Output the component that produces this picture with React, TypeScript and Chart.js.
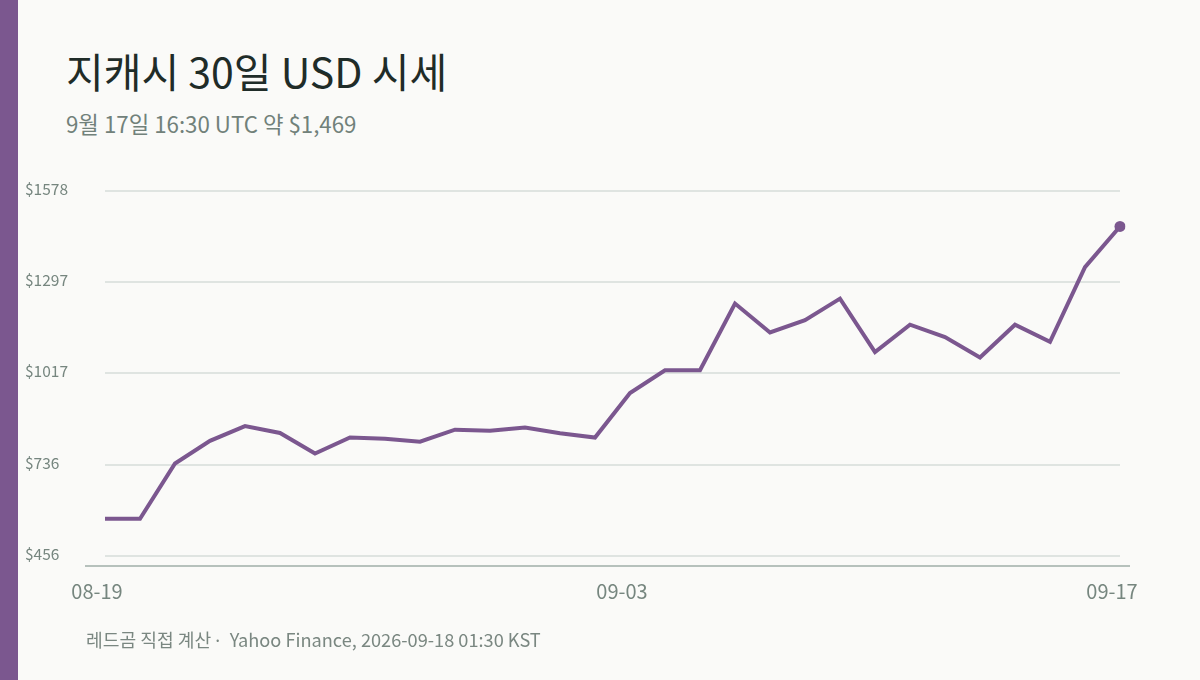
import { useEffect, useRef } from "react"
import Chart from "chart.js/auto"

const dates = [
  "08-19", "08-20", "08-21", "08-22", "08-23", "08-24", "08-25", "08-26", "08-27", "08-28",
  "08-29", "08-30", "08-31", "09-01", "09-02", "09-03", "09-04", "09-05", "09-06", "09-07",
  "09-08", "09-09", "09-10", "09-11", "09-12", "09-13", "09-14", "09-15", "09-16", "09-17"
]
const prices = [
  570, 570, 740, 810, 855, 834, 771, 820, 816, 807,
  844, 841, 851, 833, 820, 957, 1027, 1027, 1232, 1143,
  1181, 1247, 1083, 1167, 1129, 1066, 1167, 1114, 1344, 1469
]
const xTickLabels = ["08-19", "09-03", "09-17"]
const yTickValues = [456, 736, 1017, 1297, 1578]
const yTickLabels = ["$456", "$736", "$1017", "$1297", "$1578"]

const PURPLE = "#7b578f"
const FONT = "'Noto Sans CJK SC', sans-serif"

const App = () => {
  const chartRef = useRef<HTMLCanvasElement>(null)

  useEffect(() => {
    document.body.style.margin = "0"
    if (!chartRef.current) return
    const ctx = chartRef.current.getContext("2d")
    if (!ctx) return

    // x axis line runs a bit past the plot on both sides
    const axisLine = {
      id: "axisLine",
      afterDraw(chart: any) {
        const { ctx, chartArea } = chart
        ctx.save()
        ctx.strokeStyle = "#b6c1bc"
        ctx.lineWidth = 2
        ctx.beginPath()
        ctx.moveTo(chartArea.left - 20, chartArea.bottom)
        ctx.lineTo(chartArea.right + 10, chartArea.bottom)
        ctx.stroke()
        ctx.restore()
      }
    }

    const chart = new Chart(ctx, {
      type: "line",
      data: {
        labels: dates,
        datasets: [
          {
            data: prices,
            borderColor: PURPLE,
            backgroundColor: PURPLE,
            borderWidth: 4,
            tension: 0,
            pointRadius: prices.map((_, i) => (i === prices.length - 1 ? 5.5 : 0)),
            pointHoverRadius: 0,
            pointBorderWidth: 0
          }
        ]
      },
      options: {
        responsive: false,
        animation: false,
        events: [],
        layout: { padding: { top: 191, left: 25, right: 80, bottom: 74 } },
        plugins: {
          legend: { display: false },
          tooltip: { enabled: false }
        },
        scales: {
          x: {
            grid: { display: false, drawTicks: false },
            border: { display: false },
            afterFit: (scale: any) => {
              scale.height = 40
            },
            ticks: {
              autoSkip: false,
              maxRotation: 0,
              padding: 13,
              labelOffset: -8,
              color: "#76867f",
              font: { family: FONT, size: 20 },
              callback: (_v: any, i: number) =>
                xTickLabels.includes(dates[i]) ? dates[i] : ""
            }
          },
          y: {
            min: 425,
            max: 1578,
            grid: { color: "#dfe4e1", lineWidth: 2, drawTicks: false },
            border: { display: false },
            afterFit: (scale: any) => {
              scale.width = 80
            },
            afterBuildTicks: (scale: any) => {
              scale.ticks = yTickValues.map((v) => ({ value: v }))
            },
            ticks: {
              crossAlign: "far",
              padding: 0,
              labelOffset: -2,
              color: "#76867f",
              font: { family: FONT, size: 15.5 },
              callback: (v: any) => yTickLabels[yTickValues.indexOf(Number(v))]
            }
          }
        }
      },
      plugins: [axisLine]
    })

    return () => {
      chart.destroy()
    }
  }, [])

  return (
    <div
      style={{
        position: "relative",
        width: 1200,
        height: 680,
        background: "#fafaf8",
        overflow: "hidden",
        fontFamily: FONT
      }}
    >
      <div style={{ position: "absolute", left: 0, top: 0, width: 18, height: 680, background: PURPLE }} />
      <div
        style={{
          position: "absolute",
          left: 66,
          top: 50,
          fontSize: 41,
          lineHeight: 1,
          color: "#1f2c28",
          whiteSpace: "pre"
        }}
      >
        지캐시 30일 USD 시세
      </div>
      <div
        style={{
          position: "absolute",
          left: 66,
          top: 112,
          fontSize: 22.3,
          lineHeight: 1,
          color: "#71817a",
          whiteSpace: "pre"
        }}
      >
        9월 17일 16:30 UTC 약 $1,469
      </div>
      <canvas
        ref={chartRef}
        width="1200"
        height="680"
        style={{ position: "absolute", left: 0, top: 0 }}
      ></canvas>
      <div
        style={{
          position: "absolute",
          left: 86,
          top: 630,
          fontSize: 18.2,
          lineHeight: 1,
          color: "#7a8781",
          whiteSpace: "pre"
        }}
      >
        레드곰 직접 계산 <span style={{ fontFamily: "'Noto Sans', sans-serif" }}>·  </span>Yahoo Finance, 2026-09-18 01:30 KST
      </div>
    </div>
  )
}

export default App
